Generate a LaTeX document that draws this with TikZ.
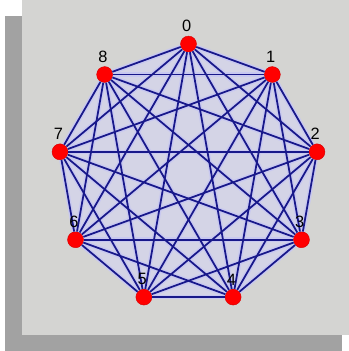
\documentclass[tikz,border=0pt]{standalone}
\usepackage{fontspec}
\setmainfont{Liberation Sans}
\usetikzlibrary{positioning}
\definecolor{panelgray}{RGB}{212,212,210}
\definecolor{shadowgray}{RGB}{162,162,162}
\definecolor{edgeblue}{RGB}{24,24,138}
\definecolor{haloblue}{RGB}{200,200,240}
\definecolor{innerfill}{RGB}{212,212,230}
\tikzset{
  vertex/.style={circle, fill=red, draw=red!85!black, line width=0.4pt, minimum size=0.48cm, inner sep=0pt},
  num/.style={inner sep=0pt, font=\fontsize{14}{15}\selectfont},
  link/.style={draw=edgeblue, line width=1.5pt},
  halo/.style={draw=haloblue, line width=4pt}
}
\begin{document}
\begin{tikzpicture}[x=0.03cm, y=0.03cm]
    % page, shadow and panel
    \fill[white] (0,0) rectangle (349,-351);
    \fill[shadowgray] (5,-16) rectangle (342,-351);
    \fill[panelgray] (22,0) rectangle (349,-335);
    \begin{scope}[shift={(188.5,-174.5)}]
      % inside of the nine-gon
      \fill[innerfill] (90:130.4) \foreach \a in {1,...,8} { -- (90-40*\a:130.4) } -- cycle;
      % vertices 0..8, clockwise from the top
      \foreach \i in {0,...,8}
        \node[vertex] (v\i) at (90-40*\i:130.4) {};
      % complete graph
      \foreach \i in {0,...,7} {
        \pgfmathtruncatemacro\k{\i+1}
        \foreach \j in {\k,...,8}
          \draw[halo] (v\i) -- (v\j);
      }
      \foreach \i in {0,...,7} {
        \pgfmathtruncatemacro\k{\i+1}
        \foreach \j in {\k,...,8}
          \draw[link] (v\i) -- (v\j);
      }
      % numbers above the vertices
      \foreach \i in {0,...,8}
        \node[num, above=3pt of v\i, xshift=-1.5pt] (n\i) {\i};
    \end{scope}
\end{tikzpicture}
\end{document}
